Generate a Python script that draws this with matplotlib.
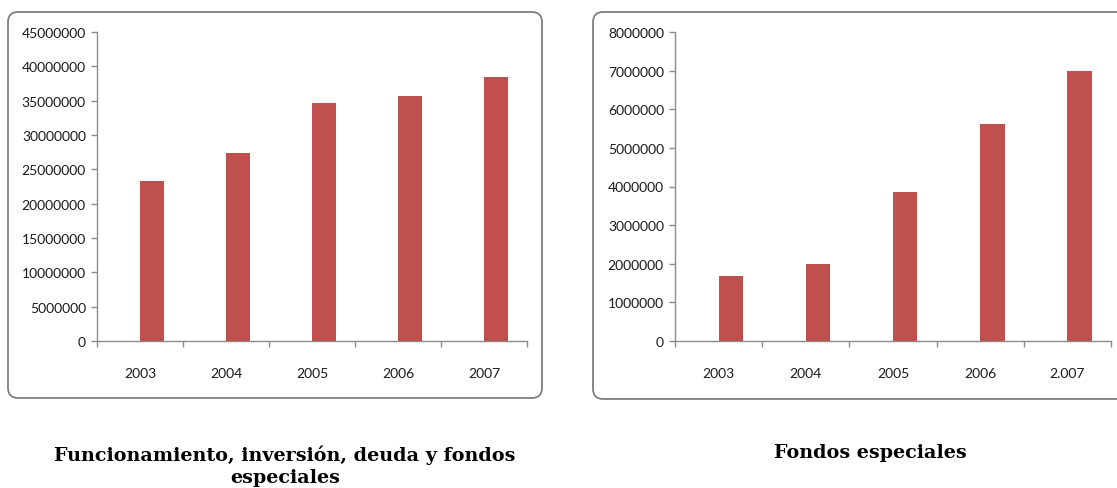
import matplotlib.pyplot as plt
import numpy as np
from matplotlib.patches import FancyBboxPatch
from matplotlib.ticker import MultipleLocator, FuncFormatter

# data
years_left = ["2003", "2004", "2005", "2006", "2007"]
years_right = ["2003", "2004", "2005", "2006", "2.007"]
total_values = [23300000, 27400000, 34650000, 35680000, 38450000]
special_values = [1680000, 1990000, 3860000, 5620000, 7000000]
titles = ["Funcionamiento, inversión, deuda y fondos\nespeciales", "Fondos especiales"]

BAR_COLOR = "#C0504D"
AXIS_COLOR = "#8C8C8C"
W, H = 1117, 489

fig = plt.figure(figsize=(W / 100, H / 100), dpi=100)


def px_box(x0, y0, x1, y1):
    # pixel coords (top-left origin) -> figure fractions
    return [x0 / W, 1 - y1 / H, (x1 - x0) / W, (y1 - y0) / H]


def draw_frame(x0, y0, x1, y1):
    l, b, w, h = px_box(x0, y0, x1, y1)
    frame = FancyBboxPatch((l, b), w, h, boxstyle="round,pad=0,rounding_size=0.009",
                           transform=fig.transFigure, fill=False,
                           edgecolor="#7F7F7F", linewidth=1.3, mutation_aspect=W / H)
    fig.patches.append(frame)


def bar_panel(rect, labels, values, ymax, step):
    ax = fig.add_axes(px_box(*rect))
    x = np.arange(len(values))
    ax.bar(x, values, width=0.28, align="edge", color=BAR_COLOR, zorder=3)
    ax.set_xlim(-0.5, len(values) - 0.5)
    ax.set_ylim(0, ymax)
    ax.yaxis.set_major_locator(MultipleLocator(step))
    ax.yaxis.set_major_formatter(FuncFormatter(lambda v, p: f"{int(v)}"))
    ax.set_xticks(x)
    ax.set_xticklabels(labels)
    ax.set_xticks(np.arange(-0.5, len(values)), minor=True)
    ax.tick_params(axis="x", which="major", length=0, pad=19)
    ax.tick_params(axis="x", which="minor", length=4, color=AXIS_COLOR, width=1)
    ax.tick_params(axis="y", length=4, color=AXIS_COLOR, width=1, pad=4)
    for lab in ax.get_xticklabels() + ax.get_yticklabels():
        lab.set_fontfamily("Lato")
        lab.set_fontsize(10)
        lab.set_color("#1a1a1a")
    for side in ("top", "right"):
        ax.spines[side].set_visible(False)
    for side in ("left", "bottom"):
        ax.spines[side].set_color(AXIS_COLOR)
        ax.spines[side].set_linewidth(1)
    ax.set_facecolor("none")
    return ax


draw_frame(8, 13, 542, 399)
draw_frame(593, 13, 1140, 400)

bar_panel((97, 33, 527, 342), years_left, total_values, 45000000, 5000000)
bar_panel((675, 33, 1111, 342), years_right, special_values, 8000000, 1000000)

fig.text(285 / W, 1 - 466 / H, titles[0], ha="center", va="center",
         family="DejaVu Serif", fontweight="bold", fontsize=13.8, linespacing=1.3)
fig.text(870 / W, 1 - 453 / H, titles[1], ha="center", va="center",
         family="DejaVu Serif", fontweight="bold", fontsize=13.8)

fig.savefig("out.png", dpi=100)
